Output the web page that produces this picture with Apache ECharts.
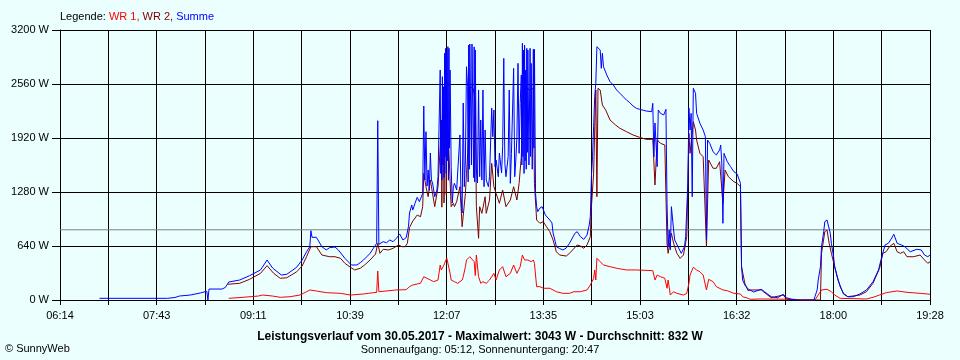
<!DOCTYPE html>
<html><head><meta charset="utf-8">
<script src="https://cdn.jsdelivr.net/npm/echarts@6/dist/echarts.min.js"></script>
<style>html,body{margin:0;padding:0;background:#ebffff;}#c{width:960px;height:360px;}</style>
</head><body><div id="c"></div>
<script>
const tickLabels = ['06:14','07:43','09:11','10:39','12:07','13:35','15:03','16:32','18:00','19:28'];
const yMax = 3200, yStep = 640;
const average = 832;
const titleText = 'Leistungsverlauf vom 30.05.2017 - Maximalwert: 3043 W - Durchschnitt: 832 W';
const subText = 'Sonnenaufgang: 05:12, Sonnenuntergang: 20:47';

const summe = [["06:50",20],["07:52",20],["07:53",30],["07:59",30],["08:03",47],["08:13",59],["08:22",83],["08:28",103],["08:29",0],["08:30",130],["08:42",130],["08:45",150],["08:48",213],["08:58",237],["09:07",288],["09:17",356],["09:23",474],["09:28",379],["09:36",296],["09:41",305],["09:50",388],["09:55",474],["09:59",572],["10:02",632],["10:03",821],["10:04",743],["10:08",743],["10:13",632],["10:17",593],["10:20",620],["10:25",628],["10:28",593],["10:31",545],["10:34",494],["10:37",454],["10:40",415],["10:45",415],["10:48",442],["10:51",474],["10:54",513],["10:57",553],["11:00",613],["11:03",672],["11:04",2125],["11:05",660],["11:06",652],["11:09",691],["11:12",679],["11:15",711],["11:18",691],["11:21",731],["11:24",782],["11:27",711],["11:30",740],["11:32",869],["11:33",1031],["11:35",1126],["11:36",1067],["11:38",1146],["11:40",1217],["11:42",1165],["11:43",1185],["11:45",1264],["11:46",2299],["11:47",1422],["11:48",1995],["11:49",1350],["11:50",1541],["11:51",1300],["11:52",1742],["11:53",1422],["11:54",1387],["11:56",1224],["11:58",1304],["11:59",1461],["12:00:30",1461],["12:01",2726],["12:01:30",1500],["12:02",2133],["12:02:30",1420],["12:03",2647],["12:03:30",1600],["12:04",2528],["12:04:30",1450],["12:05",2924],["12:05:30",1700],["12:06",2983],["12:06:30",1500],["12:07",2943],["12:07:30",1650],["12:08",3002],["12:08:30",1420],["12:09",2983],["12:09:30",1800],["12:10",2726],["12:11",1580],["12:12",1150],["12:13",1343],["12:14",1383],["12:16",1304],["12:17",1323],["12:19",1956],["12:20",1224],["12:21",1031],["12:22",2335],["12:23",1343],["12:24",1659],["12:25",2765],["12:26",2528],["12:26:30",1400],["12:27",3022],["12:27:30",1550],["12:28",3034],["12:29",3034],["12:29:30",1600],["12:30",3034],["12:31",3034],["12:31:30",1450],["12:32",3000],["12:32:30",1400],["12:33",2963],["12:34",1541],["12:35",1387],["12:36",2489],["12:37",1461],["12:38",2133],["12:39",1422],["12:40",2489],["12:41",1343],["12:42",2015],["12:43",1422],["12:45",1343],["12:46",1461],["12:48",2276],["12:49",1935],["12:50",2252],["12:51",1580],["12:52",1659],["12:54",1461],["12:55",1742],["12:57",1505],["12:58",1817],["12:59",2864],["13:00",1620],["13:01",1461],["13:03",1698],["13:04",2489],["13:05",1383],["13:06",1738],["13:08",2746],["13:09",1461],["13:10",1659],["13:11",1935],["13:12",2805],["13:13",1738],["13:14",2331],["13:15",2667],["13:15:30",1600],["13:16",3043],["13:16:30",1700],["13:17",2963],["13:17:30",1500],["13:18",3022],["13:18:30",1650],["13:19",2726],["13:19:30",1550],["13:20",2983],["13:20:30",1750],["13:21",2963],["13:22",1600],["13:23",2983],["13:23:30",1700],["13:24",2805],["13:25",1550],["13:26",2971],["13:26:30",1800],["13:27",2971],["13:28",1264],["13:29",1106],["13:30",1047],["13:32",1090],["13:34",1106],["13:35",1090],["13:37",1007],["13:38",1027],["13:41",948],["13:43",913],["13:44",794],["13:46",691],["13:47",632],["13:50",610],["13:53",593],["13:56",616],["13:59",672],["14:04",791],["14:06",810],["14:09",750],["14:12",719],["14:15",770],["14:17",889],["14:18",987],["14:19",1461],["14:20",1698],["14:21",2054],["14:22",2410],["14:23",2568],["14:24",3002],["14:25",2995],["14:27",2963],["14:28",2746],["14:29",2924],["14:30",2765],["14:33",2667],["14:36",2587],["14:39",2548],["14:42",2489],["14:45",2450],["14:48",2410],["14:51",2370],["14:54",2339],["14:57",2299],["15:00",2272],["15:03",2260],["15:09",2240],["15:14",2232],["15:15",2331],["15:16",1698],["15:17",2098],["15:19",1580],["15:20",2252],["15:22",2212],["15:25",2193],["15:27",2260],["15:28",1146],["15:29",632],["15:30",830],["15:31",593],["15:32",1106],["15:34",830],["15:35",711],["15:38",632],["15:41",553],["15:44",632],["15:45",750],["15:47",1383],["15:48",2272],["15:49",2015],["15:50",2212],["15:51",1224],["15:52",2509],["15:54",2450],["15:55",2212],["15:58",2094],["16:01",2015],["16:03",1935],["16:04",711],["16:05",1896],["16:06",1896],["16:07",1856],["16:10",1757],["16:13",1719],["16:16",1778],["16:17",1837],["16:18",1620],["16:19",909],["16:20",1738],["16:23",1639],["16:26",1580],["16:29",1521],["16:32",1493],["16:33",1481],["16:35",1383],["16:36",400],["16:37",237],["16:39",178],["16:42",130],["16:47",95],["16:48",98],["16:54",127],["16:57",98],["17:03",39],["17:09",27],["17:14",68],["17:17",27],["17:22",8],["17:26",0],["17:42",0],["17:43",39],["17:45",119],["17:46",237],["17:48",395],["17:49",632],["17:51",810],["17:52",928],["17:54",948],["17:55",928],["17:57",791],["17:58",672],["18:00",513],["18:01",395],["18:03",296],["18:06",158],["18:09",79],["18:13",39],["18:18",39],["18:24",71],["18:30",119],["18:36",217],["18:41",356],["18:44",513],["18:47",652],["18:50",672],["18:52",711],["18:55",779],["18:58",672],["19:02",652],["19:05",632],["19:10",572],["19:16",601],["19:20",593],["19:23",533],["19:26",513],["19:28",533]];

const wr2 = [["08:47",186],["08:58",198],["09:07",245],["09:17",316],["09:23",407],["09:29",316],["09:35",257],["09:41",264],["09:50",335],["09:55",403],["09:59",513],["10:03",632],["10:08",632],["10:13",533],["10:20",513],["10:25",513],["10:30",494],["10:34",435],["10:39",388],["10:43",356],["10:48",376],["10:52",415],["10:57",474],["11:02",545],["11:04",672],["11:06",553],["11:09",601],["11:14",593],["11:18",613],["11:23",652],["11:26",632],["11:29",632],["11:31",672],["11:33",860],["11:36",936],["11:40",1007],["11:43",987],["11:45",1106],["11:46",1502],["11:48",1343],["11:50",1224],["11:52",1422],["11:55",1185],["11:56",1106],["11:59",1343],["12:01",1817],["12:02",2133],["12:02:30",1100],["12:03",2200],["12:04",2331],["12:04:30",1150],["12:05",2300],["12:06",2370],["12:06:30",1250],["12:07",2250],["12:08",2015],["12:09",1738],["12:11",1106],["12:13",1146],["12:14",1106],["12:16",1165],["12:19",1343],["12:21",869],["12:24",1264],["12:25",1502],["12:27",1935],["12:28",2528],["12:31",2509],["12:33",2370],["12:34",1106],["12:36",731],["12:37",1106],["12:39",1027],["12:42",1224],["12:43",1027],["12:46",1185],["12:48",1620],["12:50",1343],["12:52",1264],["12:55",1146],["12:58",1304],["13:01",1106],["13:05",1185],["13:08",1343],["13:11",1185],["13:13",1383],["13:15",1698],["13:17",2509],["13:20",2509],["13:23",2489],["13:26",2509],["13:27",1383],["13:29",948],["13:32",909],["13:35",928],["13:38",869],["13:41",810],["13:44",711],["13:47",572],["13:50",533],["13:56",521],["13:59",553],["14:06",652],["14:09",640],["14:12",613],["14:15",652],["14:18",750],["14:19",1106],["14:21",1502],["14:22",2015],["14:23",2489],["14:24",1224],["14:25",2509],["14:27",2489],["14:29",2311],["14:32",2252],["14:36",2133],["14:41",2074],["14:45",2035],["14:51",1995],["14:57",1956],["15:03",1928],["15:09",1904],["15:15",1904],["15:17",1363],["15:19",1898],["15:22",1857],["15:26",1837],["15:28",672],["15:29",553],["15:32",791],["15:34",672],["15:37",553],["15:40",494],["15:43",533],["15:46",750],["15:48",1975],["15:49",1738],["15:52",2113],["15:54",2015],["15:55",1896],["15:58",1738],["16:01",1698],["16:04",632],["16:06",1659],["16:10",1561],["16:13",1561],["16:16",1639],["16:19",1146],["16:21",1541],["16:24",1461],["16:29",1402],["16:32",1383],["16:35",1343],["16:36",395],["16:39",198],["16:42",110],["16:44",119],["16:54",119],["17:03",27],["17:14",59],["17:17",12],["17:22",0],["17:48",0],["17:49",553],["17:52",810],["17:54",830],["17:56",672],["17:58",553],["18:01",395],["18:04",237],["18:09",71],["18:13",39],["18:24",59],["18:30",98],["18:36",198],["18:42",376],["18:45",553],["18:48",572],["18:51",632],["18:55",672],["18:58",572],["19:01",553],["19:04",572],["19:07",513],["19:13",513],["19:19",533],["19:23",474],["19:26",435],["19:28",454]];

const wr1 = [["08:48",20],["09:01",32],["09:15",47],["09:19",59],["09:28",47],["09:35",32],["09:44",39],["09:53",59],["09:59",98],["10:02",119],["10:08",107],["10:17",87],["10:30",79],["10:39",59],["10:51",71],["11:00",87],["11:03",90],["11:04",344],["11:05",98],["11:21",119],["11:30",122],["11:33",158],["11:36",178],["11:40",190],["11:43",198],["11:46",276],["11:49",257],["11:52",237],["11:55",217],["11:59",237],["12:01",415],["12:02",356],["12:04",403],["12:05",435],["12:07",498],["12:08",494],["12:10",316],["12:11",237],["12:14",217],["12:17",198],["12:21",237],["12:22",276],["12:24",395],["12:25",474],["12:28",513],["12:32",454],["12:33",290],["12:34",533],["12:36",276],["12:38",198],["12:40",217],["12:43",198],["12:46",237],["12:50",316],["12:52",237],["12:55",356],["12:58",395],["13:01",276],["13:05",316],["13:08",415],["13:11",316],["13:14",395],["13:16",533],["13:18",474],["13:21",474],["13:24",454],["13:26",474],["13:27",435],["13:29",158],["13:32",158],["13:35",139],["13:41",139],["13:44",119],["13:47",98],["13:53",79],["13:59",79],["14:03",98],["14:09",98],["14:15",119],["14:18",178],["14:21",257],["14:22",356],["14:23",237],["14:24",494],["14:27",454],["14:30",415],["14:36",395],["14:42",376],["14:51",356],["15:00",356],["15:15",348],["15:17",237],["15:19",296],["15:22",276],["15:26",257],["15:28",139],["15:29",237],["15:31",59],["15:34",98],["15:37",79],["15:43",59],["15:46",79],["15:48",198],["15:49",296],["15:52",388],["15:55",356],["15:58",335],["16:01",296],["16:04",119],["16:06",245],["16:10",217],["16:13",158],["16:19",119],["16:23",110],["16:29",79],["16:35",71],["16:37",39],["16:42",20],["16:44",8],["16:53",12],["17:25",8],["17:30",0],["17:43",0],["17:49",119],["17:54",127],["17:58",98],["18:01",59],["18:06",20],["18:30",12],["18:36",32],["18:42",59],["18:48",87],["18:58",107],["19:07",91],["19:19",79],["19:28",68]];

function mins(s){ const p = s.split(':').map(Number); return p[0]*60 + p[1] + (p[2]||0)/60; }
const START = mins(tickLabels[0]);
const END = mins(tickLabels[tickLabels.length-1]);
const SCALE = 9; // axis units per minute
const xMax = (END-START)*SCALE;
const xStep = xMax/18;
function conv(arr){ return arr.map(d => [(mins(d[0])-START)*SCALE, d[1]]); }

const FONT = "'Liberation Sans',Arial,sans-serif";
const chart = echarts.init(document.getElementById('c'), null, {renderer:'canvas'});
const lineS = (name, data, color, z) => ({
  name, type:'line', data, showSymbol:false, symbol:'none', z,
  lineStyle:{color, width:1}, itemStyle:{color}, animation:false, silent:true, sampling:null
});
const rs = c => ({color:c, fontFamily:FONT, fontSize:11, lineHeight:13});
chart.setOption({
  backgroundColor:'#ebffff',
  animation:false,
  title:{
    left:60, top:10, padding:0,
    text:'{k|Legende: }{r|WR 1, }{d|WR 2, }{b|Summe}',
    textStyle:{fontFamily:FONT, fontSize:11, fontWeight:'normal', lineHeight:13,
      rich:{k:rs('#000'), r:rs('#ff0000'), d:rs('#800000'), b:rs('#0000ff')}}
  },
  grid:{left:60, right:30, top:30, bottom:60, containLabel:false, outerBoundsMode:'none'},
  xAxis:{
    type:'value', min:0, max:xMax, interval:xStep,
    axisLine:{show:true, lineStyle:{color:'#000', width:1}},
    axisTick:{show:true, length:5, lineStyle:{color:'#000'}},
    axisLabel:{margin:10, color:'#000', fontFamily:FONT, fontSize:11,
      formatter:(v)=>{ const i=Math.round(v/xStep); return i%2===0 ? (tickLabels[i/2]||'') : ''; }},
    splitLine:{show:true, lineStyle:{color:'#000', width:1}}
  },
  yAxis:{
    type:'value', min:0, max:yMax, interval:yStep,
    axisLine:{show:true, lineStyle:{color:'#000', width:1}},
    axisTick:{show:true, length:8, lineStyle:{color:'#000'}},
    axisLabel:{margin:11, color:'#000', fontFamily:FONT, fontSize:11, formatter:(v)=> String(v)+' W'},
    splitLine:{show:true, lineStyle:{color:'#000', width:1}}
  },
  graphic:[
    {type:'text', x:480, y:337, style:{text:titleText, fill:'#000', font:'bold 12px '+FONT, align:'center', verticalAlign:'middle'}},
    {type:'text', x:480, y:350, style:{text:subText, fill:'#000', font:'11px '+FONT, align:'center', verticalAlign:'middle'}},
    {type:'text', x:5, y:349, style:{text:'\u00A9 SunnyWeb', fill:'#000', font:'11px '+FONT, align:'left', verticalAlign:'middle'}}
  ],
  series:[
    lineS('Durchschnitt', [[0,average],[xMax,average]], '#808080', 1),
    lineS('WR 1', conv(wr1), '#ff0000', 2),
    lineS('WR 2', conv(wr2), '#800000', 3),
    lineS('Summe', conv(summe), '#0000ff', 4)
  ]
});
</script></body></html>
